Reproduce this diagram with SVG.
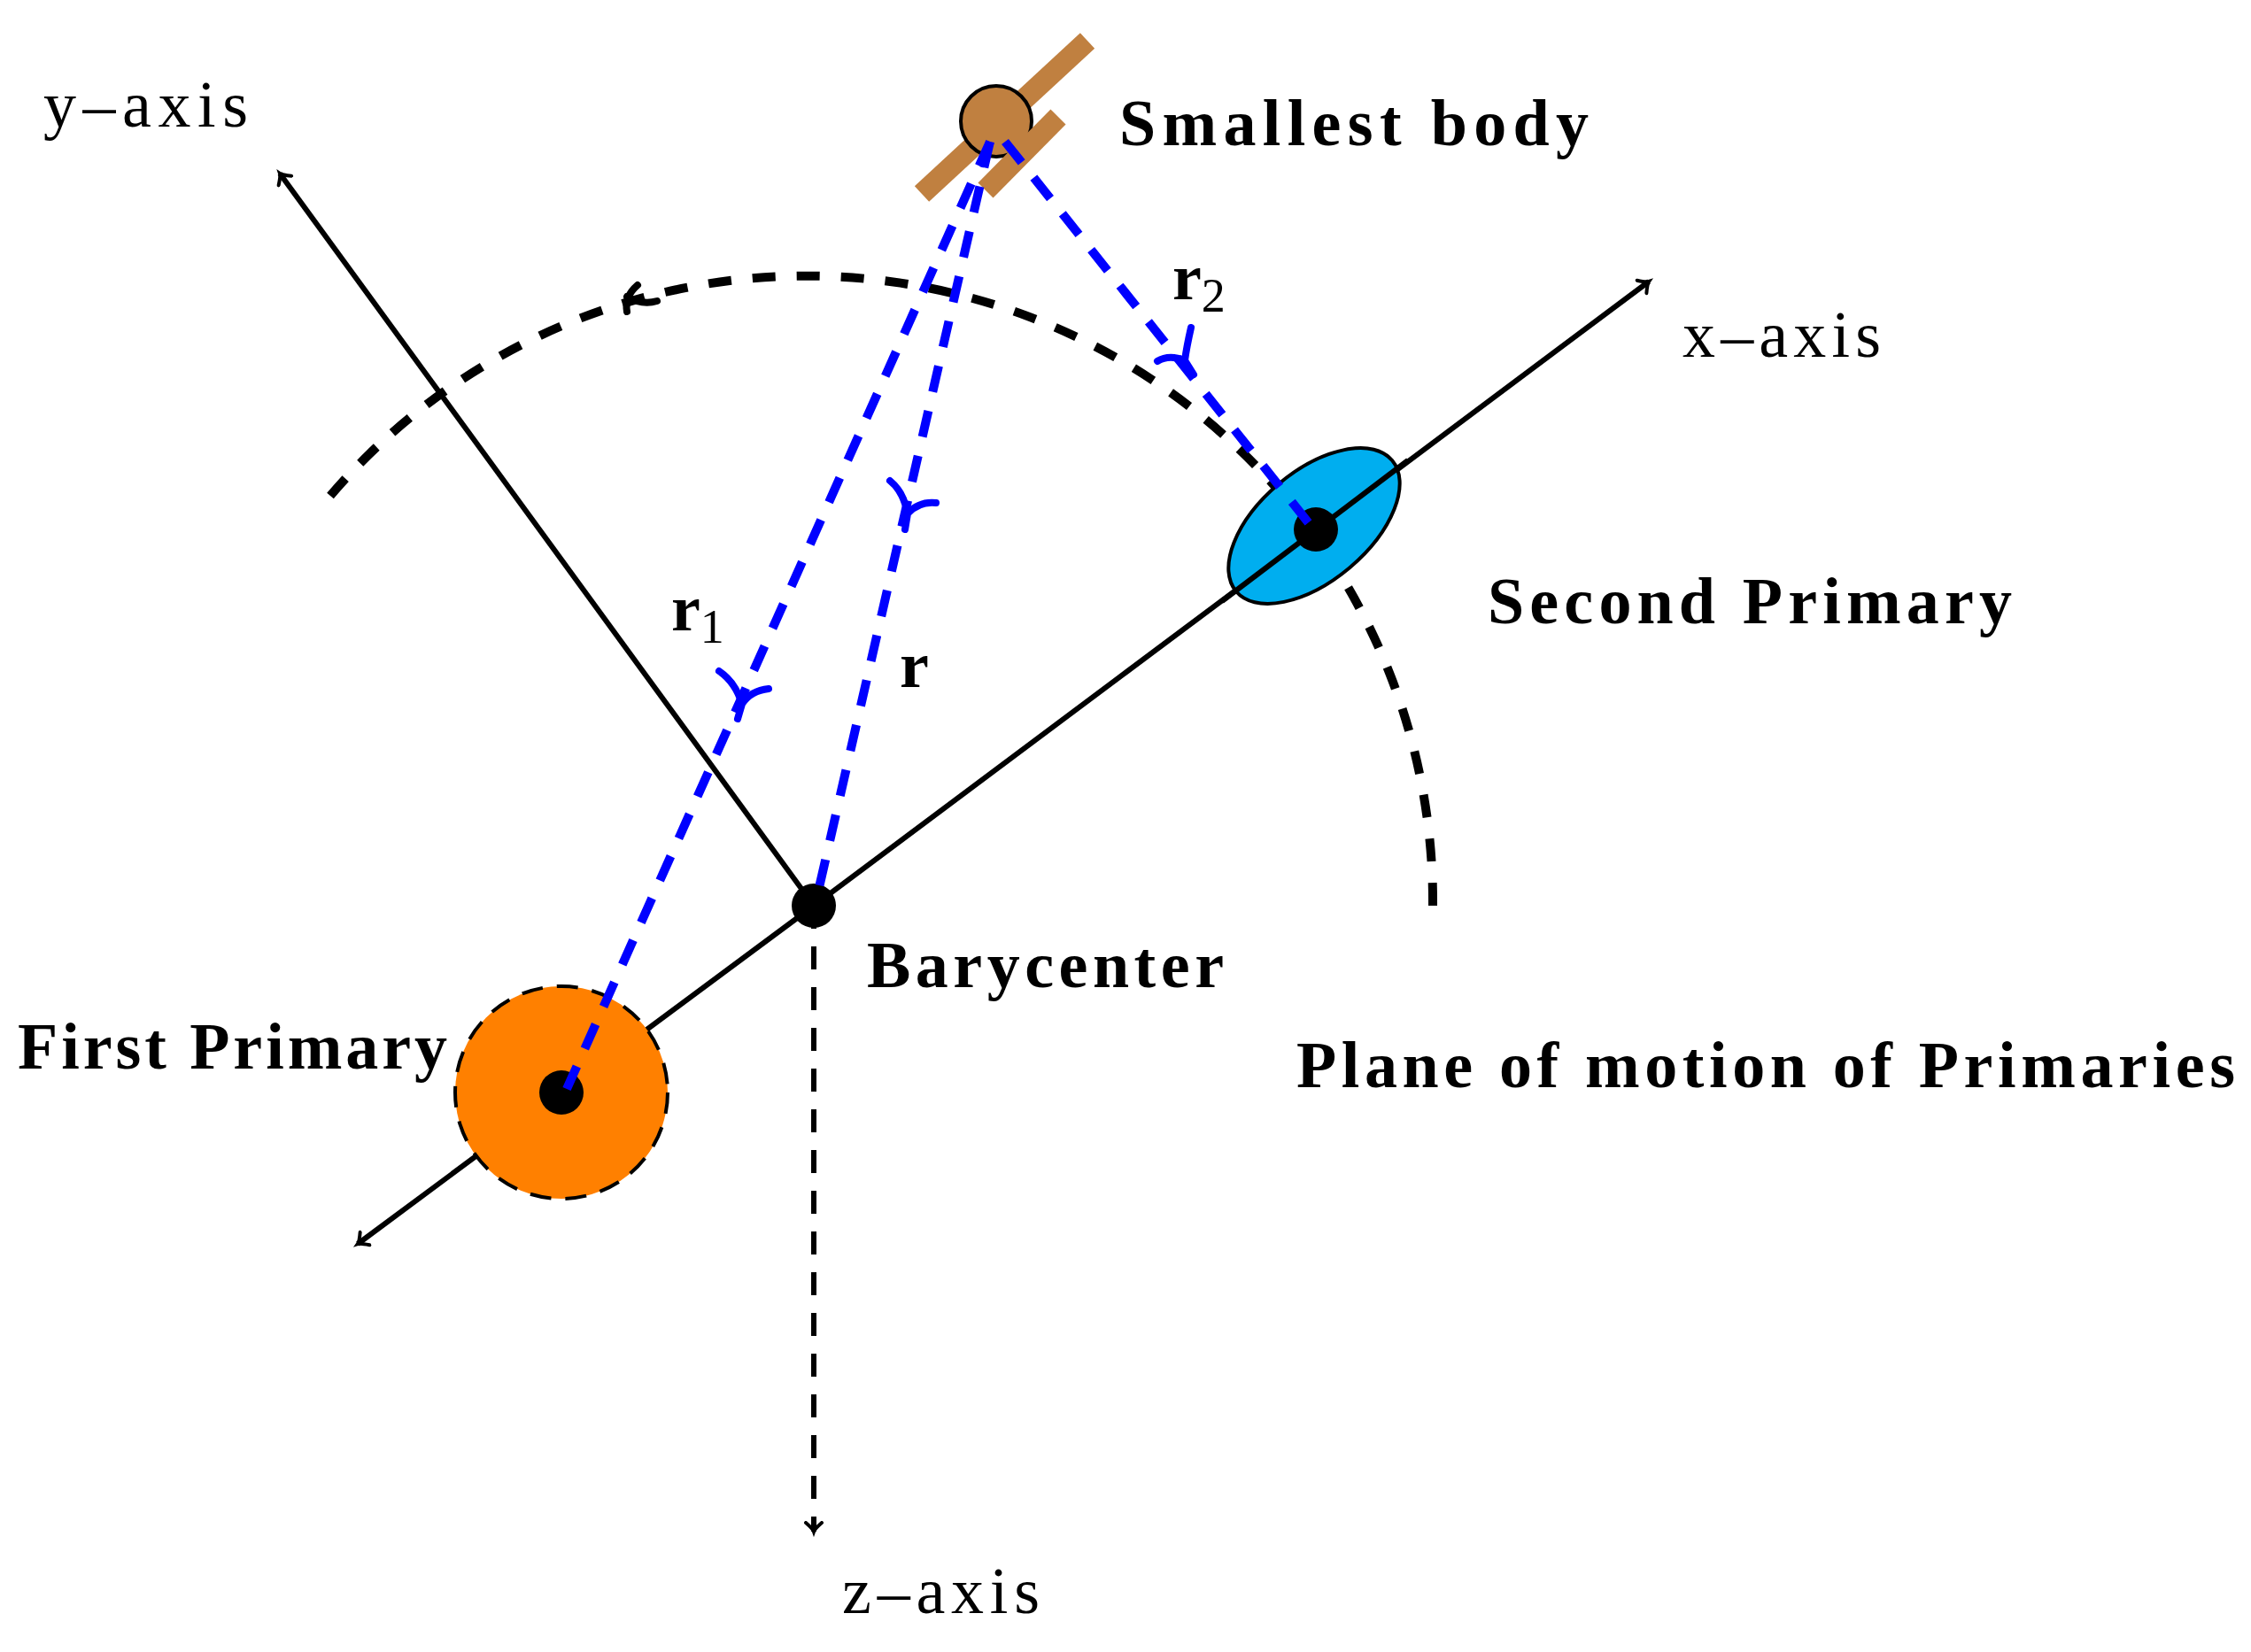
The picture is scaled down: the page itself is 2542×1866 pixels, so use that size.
<svg xmlns="http://www.w3.org/2000/svg" width="2542" height="1866" viewBox="0 0 2542 1866">
<style>
.lbl{font-family:"Liberation Serif","DejaVu Serif",serif;font-size:74px;fill:#000}
.b{font-weight:bold}
.ax{stroke:#000;stroke-width:6;fill:none}
.blue{stroke:#0000ff;stroke-width:10;fill:none;stroke-dasharray:30 22}
.mid{stroke:#0000ff;stroke-width:8;fill:none;stroke-linecap:round}
</style>
<defs>
<marker id="ah" viewBox="-12 -12 24 24" markerWidth="24" markerHeight="24" markerUnits="userSpaceOnUse" refX="0" refY="0" orient="auto">
<path d="M-10,-9 Q-3,-1 0,0 Q-3,1 -10,9" fill="none" stroke="#000" stroke-width="4" stroke-linecap="round"/>
</marker>
</defs>
<rect width="2542" height="1866" fill="#fff"/>
<g id="arc">
<path d="M373,560 A707,707 0 0 1 1618,1025" fill="none" stroke="#000" stroke-width="10" stroke-dasharray="26 24"/>
<path d="M730,322 Q715,335 718,352 M718,335 Q735,345 752,340" fill="none" stroke="#000" stroke-width="8" stroke-linecap="round" transform="translate(-10,0)"/>
</g>
<g id="connectors">
<line class="ax" x1="919" y1="1023" x2="1862" y2="318" marker-end="url(#ah)"/>
<line class="ax" x1="919" y1="1023" x2="404" y2="1405" marker-end="url(#ah)"/>
<line class="ax" x1="919" y1="1023" x2="316" y2="196" marker-end="url(#ah)"/>
<line class="ax" x1="919" y1="1023" x2="919" y2="1730" stroke-dasharray="26 20" marker-end="url(#ah)"/>
</g>
<g id="first-primary">
<circle cx="634" cy="1234" r="120" fill="#ff8000" stroke="#000" stroke-width="4" stroke-dasharray="24 16"/>
<circle cx="634" cy="1234" r="25" fill="#000"/>
</g>
<g id="second-primary">
<ellipse cx="1484" cy="594" rx="115" ry="62" transform="rotate(-40 1484 594)" fill="#00aeef" stroke="#000" stroke-width="4"/>
<line x1="1380" y1="679" x2="1590" y2="520" stroke="#000" stroke-width="6"/>
<circle cx="1486" cy="598" r="25" fill="#000"/>
</g>
<g id="barycenter"><circle cx="919" cy="1023" r="25" fill="#000"/></g>
<g id="smallest-body">
<line x1="1041" y1="219" x2="1228" y2="46" stroke="#c08040" stroke-width="24"/>
<circle cx="1125" cy="137" r="40" fill="#c08040" stroke="#000" stroke-width="4"/>
<line x1="1113" y1="215" x2="1195" y2="132" stroke="#c08040" stroke-width="24"/>
</g>
<g id="blue-lines">
<line class="blue" x1="1118" y1="160" x2="640" y2="1230"/>
<line class="blue" x1="1118" y1="160" x2="921" y2="1020"/>
<line class="blue" x1="1135" y1="160" x2="1482" y2="596"/>
<path class="mid" d="M812,758 Q830,770 838,795 Q848,780 868,778 M838,795 L833,812"/>
<path class="mid" d="M1005,543 Q1020,555 1025,580 Q1038,566 1057,568 M1025,580 L1022,598"/>
<path class="mid" d="M1345,370 Q1340,392 1338,407 Q1320,400 1307,408 M1338,407 L1348,423"/>
</g>
<g id="labels">
<text class="lbl" x="49" y="143" textLength="231">y–axis</text>
<text class="lbl" x="1900" y="403" textLength="224">x–axis</text>
<text class="lbl" x="951" y="1822" textLength="223">z–axis</text>
<text class="lbl b" x="1264" y="164" textLength="530">Smallest body</text>
<text class="lbl b" x="1680" y="704" textLength="592">Second Primary</text>
<text class="lbl b" x="979" y="1115" textLength="403">Barycenter</text>
<text class="lbl b" x="20" y="1207" textLength="485">First Primary</text>
<text class="lbl b" x="1464" y="1228" textLength="1060">Plane of motion of Primaries</text>
<text class="lbl b" x="1324" y="338">r<tspan class="b" style="font-weight:normal" font-size="54" dy="14">2</tspan></text>
<text class="lbl b" x="758" y="712">r<tspan style="font-weight:normal" font-size="54" dy="14">1</tspan></text>
<text class="lbl b" x="1016" y="776">r</text>
</g>
</svg>
